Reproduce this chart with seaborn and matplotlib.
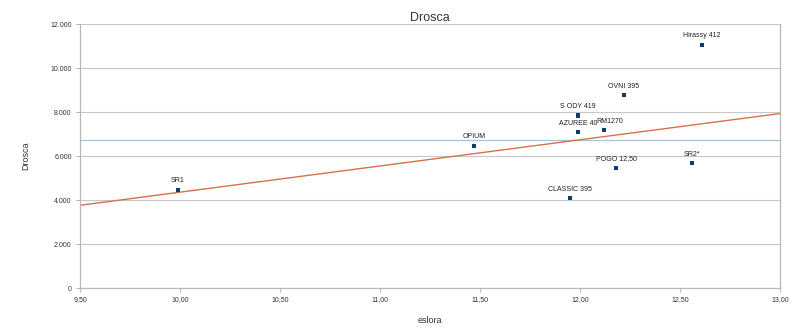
import matplotlib
matplotlib.use("Agg")
import matplotlib.pyplot as plt
import seaborn as sns
import pandas as pd
from matplotlib.ticker import FuncFormatter, MultipleLocator

# Data
boats = ["SR1", "OPIUM", "Hirassy 412", "OVNI 395", "S ODY 419", "AZUREE 40",
         "RM1270", "POGO 12,50", "SR2*", "CLASSIC 395"]
eslora = [9.99, 11.47, 12.61, 12.22, 11.99, 11.99, 12.12, 12.18, 12.56, 11.95]
drosca = [4470, 6470, 11060, 8760, 7840, 7080, 7180, 5470, 5670, 4080]

# Trend line (as drawn in the reference) and mean line
trend_x = [9.5, 13.0]
trend_y = [3760, 7930]
mean_value = 6714

df = pd.DataFrame({"eslora": eslora, "drosca": drosca, "boat": boats})
trend = pd.DataFrame({"eslora": trend_x, "drosca": trend_y})

sns.set_theme(style="white")
plt.rcParams["font.family"] = ["Liberation Sans", "DejaVu Sans"]

fig = plt.figure(figsize=(8, 3.32), dpi=100)
ax = fig.add_axes([0.1, 0.1325, 0.875, 0.7952])

grid_c = "#c8c8c8"
ax.axhline(mean_value, color="#a9c4d6", lw=0.9, zorder=1)
sns.lineplot(data=trend, x="eslora", y="drosca", ax=ax, color="#d9704c",
             lw=1.0, zorder=2)
sns.scatterplot(data=df, x="eslora", y="drosca", ax=ax, marker="s", s=9,
                color="#0d3d6e", edgecolor="none", zorder=3)

for b, xv, yv in zip(boats, eslora, drosca):
    dx = 4 if b == "RM1270" else 0
    ax.annotate(b, (xv, yv), xytext=(dx, 6.5), textcoords="offset points",
                ha="center", va="center", fontsize=5, color="#222222")

ax.set_xlim(9.5, 13.0)
ax.set_ylim(0, 12000)
ax.xaxis.set_major_locator(MultipleLocator(0.5))
ax.yaxis.set_major_locator(MultipleLocator(2000))
ax.xaxis.set_major_formatter(FuncFormatter(lambda v, p: f"{v:.2f}".replace(".", ",")))
ax.yaxis.set_major_formatter(FuncFormatter(
    lambda v, p: "0" if v == 0 else f"{int(v):,}".replace(",", ".")))

ax.yaxis.grid(True, color=grid_c, lw=0.8)
ax.xaxis.grid(False)
ax.set_axisbelow(True)
for s in ["left", "bottom", "right"]:
    ax.spines[s].set_color("#b8b8b8")
    ax.spines[s].set_linewidth(0.9)
ax.spines["top"].set_visible(False)

ax.tick_params(axis="both", which="major", length=3, width=0.8, color="#b8b8b8",
               labelsize=5, labelcolor="#333333", pad=3, direction="out",
               bottom=True, left=True)

ax.set_title("Drosca", fontsize=9, color="#333333", pad=2)
ax.set_xlabel("eslora", fontsize=6.5, color="#333333", labelpad=9)
ax.set_ylabel("Drosca", fontsize=6.5, color="#333333", labelpad=14)

fig.savefig("out.png", dpi=100)
